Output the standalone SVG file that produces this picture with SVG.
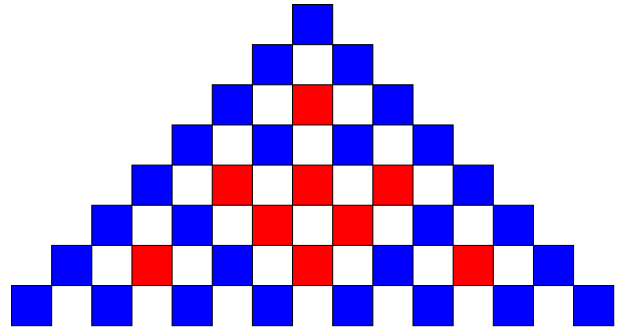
<svg xmlns="http://www.w3.org/2000/svg" width="620" height="329" viewBox="0 0 620 329">
<style>
rect{stroke:#000;stroke-width:1;width:40.15px;height:40.15px}
.b{fill:#0000ff}
.r{fill:#ff0000}
</style>
<rect x="0" y="0" width="620" height="329" style="fill:#fff;stroke:none;width:620px;height:329px"/>
<g id="row0"><rect class="b" x="292.55" y="4.5" width="40.15" height="40.15"/></g>
<g id="row1">
<rect class="b" x="252.4" y="44.65" width="40.15" height="40.15"/>
<rect class="b" x="332.7" y="44.65" width="40.15" height="40.15"/>
</g>
<g id="row2">
<rect class="b" x="212.25" y="84.8" width="40.15" height="40.15"/>
<rect class="r" x="292.55" y="84.8" width="40.15" height="40.15"/>
<rect class="b" x="372.85" y="84.8" width="40.15" height="40.15"/>
</g>
<g id="row3">
<rect class="b" x="172.1" y="124.95" width="40.15" height="40.15"/>
<rect class="b" x="252.4" y="124.95" width="40.15" height="40.15"/>
<rect class="b" x="332.7" y="124.95" width="40.15" height="40.15"/>
<rect class="b" x="413" y="124.95" width="40.15" height="40.15"/>
</g>
<g id="row4">
<rect class="b" x="131.95" y="165.1" width="40.15" height="40.15"/>
<rect class="r" x="212.25" y="165.1" width="40.15" height="40.15"/>
<rect class="r" x="292.55" y="165.1" width="40.15" height="40.15"/>
<rect class="r" x="372.85" y="165.1" width="40.15" height="40.15"/>
<rect class="b" x="453.15" y="165.1" width="40.15" height="40.15"/>
</g>
<g id="row5">
<rect class="b" x="91.8" y="205.25" width="40.15" height="40.15"/>
<rect class="b" x="172.1" y="205.25" width="40.15" height="40.15"/>
<rect class="r" x="252.4" y="205.25" width="40.15" height="40.15"/>
<rect class="r" x="332.7" y="205.25" width="40.15" height="40.15"/>
<rect class="b" x="413" y="205.25" width="40.15" height="40.15"/>
<rect class="b" x="493.3" y="205.25" width="40.15" height="40.15"/>
</g>
<g id="row6">
<rect class="b" x="51.65" y="245.4" width="40.15" height="40.15"/>
<rect class="r" x="131.95" y="245.4" width="40.15" height="40.15"/>
<rect class="b" x="212.25" y="245.4" width="40.15" height="40.15"/>
<rect class="r" x="292.55" y="245.4" width="40.15" height="40.15"/>
<rect class="b" x="372.85" y="245.4" width="40.15" height="40.15"/>
<rect class="r" x="453.15" y="245.4" width="40.15" height="40.15"/>
<rect class="b" x="533.45" y="245.4" width="40.15" height="40.15"/>
</g>
<g id="row7">
<rect class="b" x="11.5" y="285.55" width="40.15" height="40.15"/>
<rect class="b" x="91.8" y="285.55" width="40.15" height="40.15"/>
<rect class="b" x="172.1" y="285.55" width="40.15" height="40.15"/>
<rect class="b" x="252.4" y="285.55" width="40.15" height="40.15"/>
<rect class="b" x="332.7" y="285.55" width="40.15" height="40.15"/>
<rect class="b" x="413" y="285.55" width="40.15" height="40.15"/>
<rect class="b" x="493.3" y="285.55" width="40.15" height="40.15"/>
<rect class="b" x="573.6" y="285.55" width="40.15" height="40.15"/>
</g>
</svg>
